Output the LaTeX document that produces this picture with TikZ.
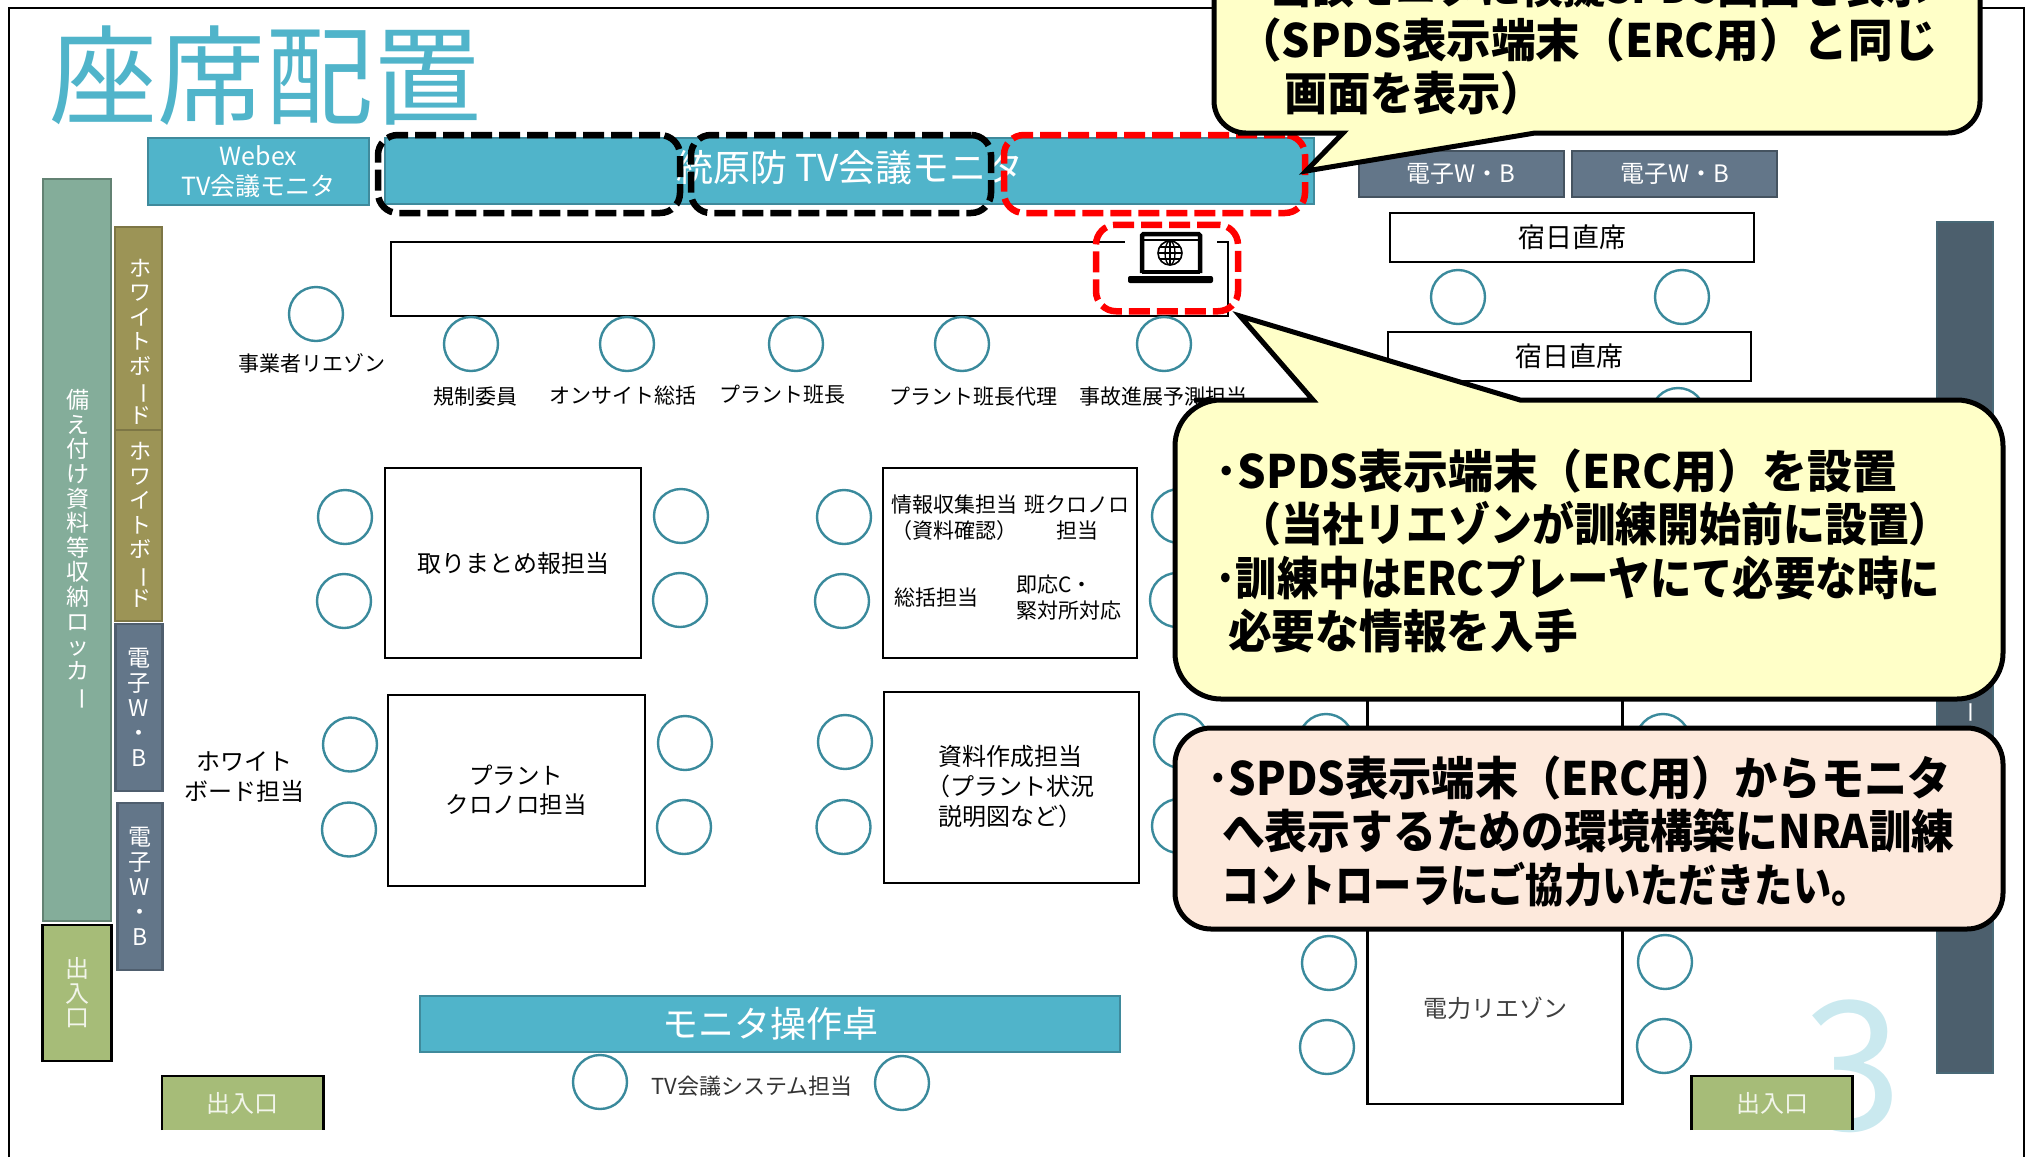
\documentclass[tikz,border=0pt]{standalone}
\usepackage{fontspec}
\setmainfont{Noto Sans CJK JP}
\usepackage{xcolor}

\definecolor{monitorblue}{HTML}{50B4CA}
\definecolor{monitoredge}{HTML}{3F8A9C}
\definecolor{seatteal}{HTML}{3A8A9C}
\definecolor{lockergreen}{HTML}{84AD9A}
\definecolor{boardolive}{HTML}{9C9456}
\definecolor{boardslate}{HTML}{637689}
\definecolor{barslate}{HTML}{4C5F6D}
\definecolor{exitgreen}{HTML}{A6BC78}
\definecolor{noteyellow}{HTML}{FFFFC8}
\definecolor{notepeach}{HTML}{FDE9DC}

\newcommand{\squeezeline}[2]{\scalebox{#1}[1]{#2}}

\tikzstyle{seat}=[circle, draw=seatteal, line width=2.4pt, minimum size=54pt, inner sep=0pt]
\tikzstyle{desk}=[rectangle, draw=black, line width=2.8pt, fill=white, inner sep=0pt, align=center, font=\fontsize{24}{30}\selectfont]
\tikzstyle{lbl}=[inner sep=0pt, align=center, font=\fontsize{21}{26}\selectfont]
\tikzstyle{screen}=[rectangle, draw=monitoredge, line width=2pt, fill=monitorblue, inner sep=0pt, align=center, text=white]
\tikzstyle{board}=[rectangle, line width=2.4pt, inner sep=0pt, align=center, text=white, font=\fontsize{23}{23.2}\selectfont]
\tikzstyle{exitdoor}=[rectangle, fill=exitgreen, inner sep=0pt, align=center, text=white!85!exitgreen, font=\fontsize{24}{24.5}\selectfont]
\tikzstyle{marked}=[rectangle, line width=6.5pt, dash pattern=on 21pt off 7pt, rounded corners=20pt, inner sep=0pt]
\tikzstyle{note}=[draw=black, line width=5pt]
\tikzstyle{notetext}=[anchor=west, inner sep=0pt, align=left, font=\fontsize{46}{53.5}\selectfont\bfseries]

\begin{document}
\begin{tikzpicture}[x=1pt, y=-1pt]
    \useasboundingbox (0,0) rectangle (2027,1157);

    \draw[black, line width=2.6pt] (9,1157) -- (9,8) -- (2024,8) -- (2024,1157);

    \node[inner sep=0pt, text=monitorblue, font=\fontsize{108}{108}\selectfont] (title) at (265,76) {座席配置};

    \node[inner sep=0pt, text=monitorblue!30!white, font=\fontsize{180}{180}\selectfont] (pagenum) at (1852,1066) {3};

    \node[screen, minimum width=221, minimum height=67, font=\fontsize{25}{30}\selectfont] (webex) at (258.5,171.5) {Webex\\TV会議モニタ};
    \node[screen, minimum width=929, minimum height=66] (tvmonitor) at (849.5,171) {};
    \node[inner sep=0pt, text=white, font=\fontsize{37}{40}\selectfont] (tvlabel) at (850,168) {統原防 TV会議モニタ};

    \node[marked, draw=black, minimum width=302, minimum height=78] (markA) at (529,174) {};
    \node[marked, draw=black, minimum width=300, minimum height=78] (markB) at (841,174) {};
    \node[marked, draw=red, minimum width=301, minimum height=78] (markC) at (1154.5,174) {};

    \node[rectangle, draw=black, line width=2.8pt, fill=white, minimum width=837, minimum height=74, inner sep=0pt] (longdesk) at (809.5,279) {};

    \node[fill=white, inner sep=0pt, minimum width=92, minimum height=48] (laptopbg) at (1171,264) {};
    \draw[black, line width=4.5pt, rounded corners=1.5pt] (1142,273) -- (1142,234) -- (1200,234) -- (1200,273);
    \draw[black, line width=2pt] (1144,240) -- (1198,240);
    \draw[black, line width=4.5pt] (1142,272) -- (1200,272);
    \fill[black, rounded corners=2pt] (1128,276) rectangle (1213,283);
    \draw[black, line width=1.6pt] (1170,253) circle (12pt);
    \draw[black, line width=1.3pt] (1170,253) ellipse (5pt and 12pt);
    \draw[black, line width=1.3pt] (1170,241) -- (1170,265);
    \draw[black, line width=1.3pt] (1158,253) -- (1182,253);
    \draw[black, line width=1.3pt] (1160,247) -- (1180,247);
    \draw[black, line width=1.3pt] (1160,259) -- (1180,259);

    \node[marked, draw=red, minimum width=142, minimum height=86.5] (markD) at (1167,268) {};

    \node[rectangle, draw=boardslate!70!black, line width=2pt, fill=boardslate, inner sep=0pt, text=white, font=\fontsize{24}{24}\selectfont, minimum width=205, minimum height=46] (ewbA) at (1461,174) {電子W・B};
    \node[rectangle, draw=boardslate!70!black, line width=2pt, fill=boardslate, inner sep=0pt, text=white, font=\fontsize{24}{24}\selectfont, minimum width=205, minimum height=46] (ewbB) at (1674.5,174) {電子W・B};

    \node[desk, font=\fontsize{27}{30}\selectfont, minimum width=364, minimum height=49] (dutyA) at (1572,237.5) {宿日直席};
    \node[desk, font=\fontsize{27}{30}\selectfont, minimum width=363, minimum height=49] (dutyB) at (1569.5,356.5) {宿日直席};

    \node[seat] (seat-duty1) at (1458,297) {};
    \node[seat] (seat-duty2) at (1682,297) {};
    \node[seat] (seat-duty3) at (1678,415) {};

    \node[seat] (seat-op) at (316,314) {};
    \node[seat] (seat-reg) at (471,344) {};
    \node[seat] (seat-onsite) at (627,344) {};
    \node[seat] (seat-plant) at (796,344) {};
    \node[seat] (seat-deputy) at (962,344) {};
    \node[seat] (seat-forecast) at (1164,344) {};

    \node[lbl] (lbl-op) at (311.5,363) {事業者リエゾン};
    \node[lbl] (lbl-reg) at (475,397) {規制委員};
    \node[lbl] (lbl-onsite) at (623,396) {オンサイト総括};
    \node[lbl] (lbl-plant) at (782,395) {プラント班長};
    \node[lbl] (lbl-deputy) at (973,397) {プラント班長代理};
    \node[lbl] (lbl-forecast) at (1163,397) {事故進展予測担当};

    \node[board, fill=lockergreen, draw=lockergreen!75!black, minimum width=68, minimum height=742, font=\fontsize{23}{24.6}\selectfont] (locker) at (77,550) {};
    \node[inner sep=0pt, align=center, text=white, font=\fontsize{23}{24.6}\selectfont] (lockerlabel) at (78,550) {備\\え\\付\\け\\資\\料\\等\\収\\納\\ロ\\ッ\\カ\\\rotatebox[origin=c]{-90}{ー}};

    \node[board, fill=boardolive, draw=boardolive!80!black, minimum width=47, minimum height=203] (wbA) at (138.5,328.5) {};
    \node[board, fill=boardolive, draw=boardolive!80!black, minimum width=47, minimum height=191] (wbB) at (138.5,525.5) {};
    \node[inner sep=0pt, align=center, text=white, font=\fontsize{22}{24.5}\selectfont] (wbAlabel) at (140,341.5) {ホ\\ワ\\イ\\ト\\ボ\\\rotatebox[origin=c]{-90}{ー}\\ド};
    \node[inner sep=0pt, align=center, text=white, font=\fontsize{22}{24.5}\selectfont] (wbBlabel) at (140,525) {ホ\\ワ\\イ\\ト\\ボ\\\rotatebox[origin=c]{-90}{ー}\\ド};

    \node[board, fill=boardslate, draw=boardslate!80!black, minimum width=47, minimum height=167, font=\fontsize{23}{25}\selectfont] (ewbC) at (139,707.5) {電\\子\\W\\・\\B};
    \node[board, fill=boardslate, draw=boardslate!80!black, minimum width=45, minimum height=167, font=\fontsize{23}{25}\selectfont] (ewbD) at (140,886.5) {電\\子\\W\\・\\B};

    \node[exitdoor, draw=black, line width=2.6pt, minimum width=69, minimum height=136] (exitA) at (77,993) {出\\入\\口};

    \node[exitdoor, minimum width=161, minimum height=54] (exitB) at (242.5,1103) {出入口};
    \draw[black, line width=2.6pt] (exitB.south west) |- (exitB.north east) -- (exitB.south east);
    \node[exitdoor, minimum width=161, minimum height=54] (exitC) at (1772,1103) {出入口};
    \draw[black, line width=2.6pt] (exitC.south west) |- (exitC.north east) -- (exitC.south east);

    \node[rectangle, fill=barslate, draw=barslate!80!seatteal, line width=1.5pt, minimum width=56, minimum height=851, inner sep=0pt] (rightbar) at (1965,647.5) {};
    \node[inner sep=0pt, text=white, font=\fontsize{22}{22}\selectfont] (rightbarlabel) at (1967,712) {\rotatebox[origin=c]{-90}{ー}};

    \node[desk, minimum width=256, minimum height=190] (desk-summary) at (513,563) {取りまとめ報担当};
    \node[seat] (seat-sum1) at (345,517) {};
    \node[seat] (seat-sum2) at (344,601) {};
    \node[seat] (seat-sum3) at (681,516) {};
    \node[seat] (seat-sum4) at (680,600) {};

    \node[desk, minimum width=257, minimum height=191] (desk-chrono) at (516.5,790.5) {};
    \node[inner sep=0pt, align=center, font=\fontsize{23.5}{29.5}\selectfont] (lbl-chrono) at (516,790) {プラント\\クロノロ担当};
    \node[seat] (seat-chr1) at (350,744.5) {};
    \node[seat] (seat-chr2) at (349,829.5) {};
    \node[seat] (seat-chr3) at (685,743) {};
    \node[seat] (seat-chr4) at (684,827) {};
    \node[inner sep=0pt, align=center, font=\fontsize{24}{30}\selectfont] (lbl-wb) at (244,777) {ホワイト\\ボード担当};

    \node[desk, minimum width=254, minimum height=190] (desk-info) at (1010,563) {};
    \node[lbl] (lbl-infoA) at (954,517.5) {情報収集担当\\（資料確認）};
    \node[lbl] (lbl-infoB) at (1077,517.5) {班クロノロ\\担当};
    \node[lbl] (lbl-infoC) at (936,598) {総括担当};
    \node[lbl, align=left] (lbl-infoD) at (1069,598) {即応C・\\緊対所対応};
    \node[seat] (seat-inf1) at (844,517) {};
    \node[seat] (seat-inf2) at (842,601) {};
    \node[seat] (seat-inf3) at (1179,516) {};
    \node[seat] (seat-inf4) at (1177,600) {};

    \node[desk, minimum width=255, minimum height=191] (desk-docs) at (1011.5,787.5) {};
    \node[inner sep=0pt, align=left, font=\fontsize{24}{30}\selectfont] (lbl-docs) at (1016,787) {資料作成担当\\\hspace*{-12pt}（プラント状況\\説明図など）};
    \node[seat] (seat-doc1) at (845,742) {};
    \node[seat] (seat-doc2) at (843.5,827) {};
    \node[seat] (seat-doc3) at (1181,741) {};
    \node[seat] (seat-doc4) at (1179,826) {};

    \node[desk, minimum width=255, minimum height=200] (desk-hidden) at (1495,640) {};
    \node[desk, minimum width=255, minimum height=190, font=\fontsize{24}{30}\selectfont, text=black!75] (desk-power) at (1495,1009) {};
    \node[inner sep=0pt, text=black!75, font=\fontsize{24}{30}\selectfont] (lbl-power) at (1495,1008) {電力リエゾン};
    \node[seat] (seat-pow1) at (1326,741) {};
    \node[seat] (seat-pow2) at (1663,741) {};
    \node[seat] (seat-pow3) at (1329,963) {};
    \node[seat] (seat-pow4) at (1327,1047) {};
    \node[seat] (seat-pow5) at (1665,962) {};
    \node[seat] (seat-pow6) at (1664,1046) {};

    \node[screen, minimum width=700, minimum height=56, font=\fontsize{36}{40}\selectfont] (console) at (770,1024) {モニタ操作卓};
    \node[seat] (seat-tvA) at (600,1082) {};
    \node[seat] (seat-tvB) at (902,1083) {};
    \node[inner sep=0pt, text=black!80, font=\fontsize{22}{26}\selectfont] (lbl-tv) at (752,1086) {TV会議システム担当};

    \draw[note, fill=noteyellow] (1343,133) -- (1306,171) -- (1535,133) [rounded corners=32pt] -- (1980,133) -- (1980,-70) -- (1214,-70) -- (1214,133) -- (1270,133) [sharp corners] -- cycle;
    \node[notetext] (note-monitor) at (1237,40) {\hspace*{33pt}\squeezeline{.91}{当該モニタに模擬SPDS画面を表示}\\\squeezeline{.97}{（SPDS表示端末（ERC用）と同じ}\\\hspace*{47pt}\squeezeline{.94}{画面を表示）}};

    \draw[note, fill=noteyellow] (1313,400) -- (1240,316) -- (1520,400) [rounded corners=46pt] -- (2003,400) -- (2003,699) -- (1175,699) -- (1175,400) -- (1240,400) [sharp corners] -- cycle;
    \node[notetext] (note-terminal) at (1215,551) {\squeezeline{.975}{･SPDS表示端末（ERC用）を設置}\\\hspace*{24pt}\squeezeline{.91}{（当社リエゾンが訓練開始前に設置）}\\\squeezeline{.90}{･訓練中はERCプレーヤにて必要な時に}\\\hspace*{13pt}\squeezeline{.95}{必要な情報を入手}};

    \draw[note, fill=notepeach, rounded corners=36pt] (1175,728) rectangle (2003,929);
    \node[notetext] (note-request) at (1207,831) {\squeezeline{.94}{･SPDS表示端末（ERC用）からモニタ}\\\hspace*{15pt}\squeezeline{.93}{へ表示するための環境構築にNRA訓練}\\\hspace*{14pt}\squeezeline{.83}{コントローラにご協力いただきたい。}};
\end{tikzpicture}
\end{document}
